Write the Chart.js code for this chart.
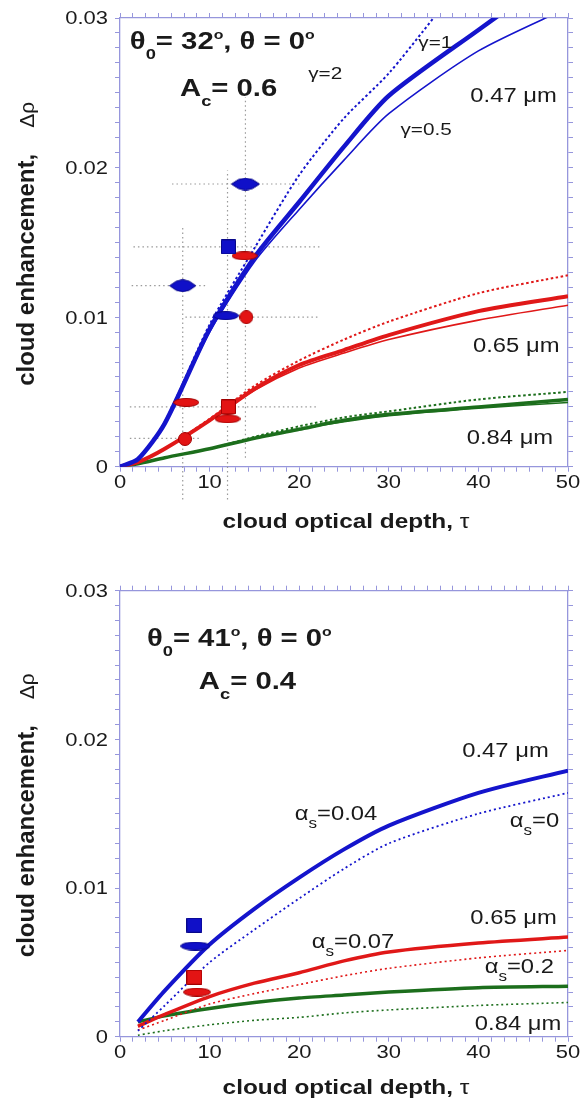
<!DOCTYPE html>
<html>
<head>
<meta charset="utf-8">
<script src="https://cdn.jsdelivr.net/npm/chart.js@4.4.1/dist/chart.umd.min.js"></script>
<style>
html, body { margin: 0; padding: 0; background: #fff; }
#wrap { position: relative; width: 581px; height: 1102px; }
.panel { position: absolute; left: 0; width: 581px; height: 551px; }
</style>
</head>
<body>
<div id="wrap">
  <div class="panel" style="top:0"><canvas id="topChart" width="581" height="551"></canvas></div>
  <div class="panel" style="top:551px"><canvas id="botChart" width="581" height="551"></canvas></div>
</div>
<script>
// ---- axes / ticks ----
const xTickValues = [0, 10, 20, 30, 40, 50];
const xTickLabels = ["0", "10", "20", "30", "40", "50"];
const yTickValues = [0, 0.01, 0.02, 0.03];
const yTickLabels = ["0", "0.01", "0.02", "0.03"];
const xMinorStep = 10 / 7;   // 7 small ticks per decade of tau
const yMinorStep = 0.001;

// ---- top panel: theta0 = 32, Ac = 0.6 ----
const tauTop = [0, 2, 5, 10, 15, 20, 25, 30, 40, 50];
const blueG1 = [0, 0.0005, 0.0029, 0.0092, 0.0140, 0.0177, 0.0214, 0.0248, 0.0292, 0.0335];
const blueG05 = [0, 0.0005, 0.0029, 0.0090, 0.0137, 0.0172, 0.0205, 0.0236, 0.0278, 0.0307];
const blueG2 = [0, 0.0005, 0.0030, 0.0095, 0.0146, 0.0195, 0.0233, 0.0263, 0.0335, 0.0380];
const redG1 = [0, 0.0003, 0.0012, 0.0031, 0.0052, 0.0068, 0.0078, 0.0088, 0.0104, 0.0114];
const redG05 = [0, 0.0003, 0.0012, 0.0031, 0.0051, 0.0066, 0.0076, 0.0085, 0.0098, 0.0108];
const redG2 = [0, 0.0003, 0.0012, 0.0032, 0.0054, 0.0071, 0.0085, 0.0097, 0.0116, 0.0128];
const greenG1 = [0, 0.0002, 0.0006, 0.0012, 0.0019, 0.0025, 0.0031, 0.0035, 0.0040, 0.0045];
const greenG05 = [0, 0.0002, 0.0006, 0.0012, 0.0019, 0.0025, 0.0030, 0.0034, 0.0039, 0.0043];
const greenG2 = [0, 0.0002, 0.0006, 0.0012, 0.0020, 0.0027, 0.0033, 0.0037, 0.0045, 0.0050];

// observations, top panel
const obsBlueLensTau = [14.0], obsBlueLensVal = [0.0189];
const obsBlueSmallLensTau = [7.0], obsBlueSmallLensVal = [0.0121];
const obsBlueSquareTau = [12.1], obsBlueSquareVal = [0.0147];
const obsBlueEllTau = [11.8], obsBlueEllVal = [0.0101];
const obsRedEllTau = [13.9, 7.4, 12.0], obsRedEllVal = [0.0141, 0.0043, 0.0032];
const obsRedCircTau = [14.1, 7.25], obsRedCircVal = [0.0100, 0.00185];
const obsRedSquareTau = [12.1], obsRedSquareVal = [0.0040];
// error bars (dotted grey)
const hBarVal = [0.0189, 0.0147, 0.0121, 0.0100, 0.0040, 0.0019];
const hBarFrom = [5.8, 1.5, 1.3, 7.3, 1.1, 1.1];
const hBarTo = [20.1, 22.3, 9.5, 22.3, 22.1, 8.9];
const vBarTau = [7.0, 12.0, 14.0];
const vBarFrom = [-0.0022, -0.0022, 0.0006];
const vBarTo = [0.0161, 0.0198, 0.0247];

// ---- bottom panel: theta0 = 41, Ac = 0.4 ----
const tauBot = [2, 5, 10, 15, 20, 25, 30, 40, 50];
const blueA004 = [0.0010, 0.0031, 0.0062, 0.0086, 0.0107, 0.0126, 0.0142, 0.0164, 0.0179];
const blueA0 = [0.0004, 0.0021, 0.0050, 0.0072, 0.0093, 0.0113, 0.0130, 0.0150, 0.0164];
const redA007 = [0.0007, 0.0015, 0.0027, 0.0036, 0.0043, 0.0051, 0.0057, 0.0063, 0.0067];
const redA0 = [0.00045, 0.0011, 0.0022, 0.0029, 0.0035, 0.0041, 0.0046, 0.0053, 0.0058];
const greenA02 = [0.0010, 0.0014, 0.0019, 0.0023, 0.0026, 0.0028, 0.0030, 0.0033, 0.0034];
const greenA0 = [0.0001, 0.0004, 0.0008, 0.0011, 0.0013, 0.0016, 0.0018, 0.0021, 0.0023];
const botBlueSquareTau = [8.3], botBlueSquareVal = [0.0075];
const botBlueEllTau = [8.4], botBlueEllVal = [0.0061];
const botRedSquareTau = [8.3], botRedSquareVal = [0.0040];
const botRedEllTau = [8.6], botRedEllVal = [0.0030];

// ---- styles ----
const AXIS = "#9696dc";
const BLUE = "#1414cc";
const RED = "#e01818";
const GREEN = "#1c6e1c";
const GREY = "#9a9a9a";
const FF = "'Liberation Sans', Arial, sans-serif";
const SX = 1.22;   // text in the figure is drawn wide

function makeMarker(shape, w, h, fill, edge) {
    const c = document.createElement("canvas");
    c.width = w; c.height = h;
    const g = c.getContext("2d");
    g.fillStyle = fill; g.strokeStyle = edge; g.lineWidth = 1;
    g.beginPath();
    if (shape === "ellipse") g.ellipse(w / 2, h / 2, w / 2 - 0.5, h / 2 - 0.5, 0, 0, 2 * Math.PI);
    else if (shape === "lens") {
        g.moveTo(0.5, h / 2);
        g.quadraticCurveTo(w / 2, -h / 2 + 1, w - 0.5, h / 2);
        g.quadraticCurveTo(w / 2, 1.5 * h - 1, 0.5, h / 2);
    }
    else if (shape === "circle") g.arc(w / 2, h / 2, w / 2 - 0.5, 0, 2 * Math.PI);
    else g.rect(0.5, 0.5, w - 1, h - 1);
    g.fill(); g.stroke();
    return c;
}

const mk = {
    blueLens: makeMarker("lens", 29, 13, "#1010c8", "#08088a"),
    blueSmallLens: makeMarker("lens", 27, 13, "#1010c8", "#08088a"),
    blueSquare: makeMarker("rect", 15, 15, "#1010c8", "#08088a"),
    blueEll: makeMarker("ellipse", 26, 9, "#1010c8", "#08088a"),
    redEll: makeMarker("ellipse", 26, 9, "#e31414", "#a00000"),
    redCirc: makeMarker("circle", 14, 14, "#e31414", "#a00000"),
    redSquare: makeMarker("rect", 15, 15, "#e31414", "#a00000"),
    botBlueSquare: makeMarker("rect", 16, 15, "#1010c8", "#08088a"),
    botBlueEll: makeMarker("ellipse", 30, 9, "#1010c8", "#08088a"),
    botRedSquare: makeMarker("rect", 16, 15, "#e31414", "#a00000"),
    botRedEll: makeMarker("ellipse", 28, 9, "#e31414", "#a00000")
};

function pts(xs, ys) {
    return xs.map((x, i) => ({ x: x, y: ys[i] }));
}

function curve(xs, ys, color, width, dash) {
    return {
        data: pts(xs, ys), borderColor: color, borderWidth: width, borderDash: dash || [],
        pointRadius: 0, fill: false, tension: 0.25, borderJoinStyle: "round", order: 2
    };
}

function markers(xs, ys, img) {
    return {
        data: pts(xs, ys), showLine: false, pointStyle: img, pointRadius: 8,
        pointHoverRadius: 8, order: 0, clip: false
    };
}

function bar(xs, ys) {
    return {
        data: pts(xs, ys), borderColor: GREY, borderWidth: 1.2, borderDash: [1.5, 3],
        pointRadius: 0, tension: 0, order: 3, clip: false
    };
}

function axisCfg(axis, pos, min, max, step, size) {
    const n = Math.round((max - min) / step);
    return {
        type: "linear", axis: axis, position: pos, min: min, max: max,
        grid: { display: true, drawOnChartArea: false, drawTicks: true, tickLength: 5, tickColor: AXIS, tickWidth: 1 },
        border: { display: true, color: AXIS, width: 1.3 },
        ticks: { display: false },
        afterBuildTicks: s => { s.ticks = Array.from({ length: n + 1 }, (_, i) => ({ value: min + i * step })); },
        afterFit: s => { if (pos === "left" || pos === "right") s.width = size; else s.height = size; }
    };
}

// draw a run of text pieces [text, font, dy], stretched horizontally
function drawRun(ctx, x, y, parts, align) {
    ctx.save();
    ctx.textAlign = "left";
    ctx.textBaseline = "alphabetic";
    let w = 0;
    parts.forEach(p => { ctx.font = p[1]; w += ctx.measureText(p[0]).width; });
    const start = align === "center" ? x - w * SX / 2 : align === "right" ? x - w * SX : x;
    ctx.translate(start, y);
    ctx.scale(SX, 1);
    let cx = 0;
    parts.forEach(p => {
        ctx.font = p[1];
        ctx.fillText(p[0], cx, p[2] || 0);
        cx += ctx.measureText(p[0]).width;
    });
    ctx.restore();
}

const B24 = "bold 24px " + FF, B15 = "bold 15px " + FF, B13 = "bold 13px " + FF;
const R19 = "19.5px " + FF, R17 = "17px " + FF, R14 = "14px " + FF, R18 = "18px " + FF;

function textPlugin(notes, titleOffset) {
    return {
        id: "texts",
        afterDraw(chart) {
            const ctx = chart.ctx, xs = chart.scales.x, ys = chart.scales.y, a = chart.chartArea;
            ctx.save();
            ctx.fillStyle = "#1a1a1a";
            // tick labels
            xTickValues.forEach((v, i) => drawRun(ctx, xs.getPixelForValue(v), a.bottom + 21.5, [[xTickLabels[i], R18]], "center"));
            yTickValues.forEach((v, i) => drawRun(ctx, a.left - 12, ys.getPixelForValue(v) + 6.4, [[yTickLabels[i], R18]], "right"));
            // x title
            drawRun(ctx, (a.left + a.right) / 2 + 2, a.bottom + titleOffset,
                [["cloud optical depth, ", "bold 20px " + FF], ["\u03c4", "20px " + FF]], "center");
            // y title
            ctx.save();
            ctx.translate(34, (a.top + a.bottom) / 2 + 143.5);
            ctx.rotate(-Math.PI / 2);
            ctx.textAlign = "left";
            ctx.font = "bold 24px " + FF;
            ctx.fillText("cloud enhancement,", 0, 0);
            ctx.font = "21px " + FF;
            ctx.fillText("\u0394\u03c1", 258, 0);
            ctx.restore();
            // annotations in data coordinates
            notes.forEach(n => drawRun(ctx, xs.getPixelForValue(n.tau), ys.getPixelForValue(n.val), n.parts, "left"));
            ctx.restore();
        }
    };
}

function makeChart(id, datasets, notes, topSize, bottomSize, titleOffset) {
    return new Chart(document.getElementById(id), {
        type: "line",
        data: { datasets: datasets },
        options: {
            responsive: false, animation: false, events: [],
            layout: { padding: 0 },
            plugins: { legend: { display: false }, tooltip: { enabled: false } },
            scales: {
                x: axisCfg("x", "bottom", 0, 50, xMinorStep, bottomSize),
                x2: axisCfg("x", "top", 0, 50, xMinorStep, topSize),
                y: axisCfg("y", "left", 0, 0.03, yMinorStep, 120),
                y2: axisCfg("y", "right", 0, 0.03, yMinorStep, 13)
            }
        },
        plugins: [textPlugin(notes, titleOffset)]
    });
}

// ---- top chart ----
const topSets = [
    markers(obsBlueLensTau, obsBlueLensVal, mk.blueLens),
    markers(obsBlueSmallLensTau, obsBlueSmallLensVal, mk.blueSmallLens),
    markers(obsBlueSquareTau, obsBlueSquareVal, mk.blueSquare),
    markers(obsBlueEllTau, obsBlueEllVal, mk.blueEll),
    markers(obsRedCircTau, obsRedCircVal, mk.redCirc),
    markers(obsRedEllTau, obsRedEllVal, mk.redEll),
    markers(obsRedSquareTau, obsRedSquareVal, mk.redSquare),
    curve(tauTop, blueG1, BLUE, 4.5),
    curve(tauTop, blueG05, BLUE, 1.6),
    curve(tauTop, blueG2, BLUE, 2, [2.5, 2.5]),
    curve(tauTop, redG1, RED, 4),
    curve(tauTop, redG05, RED, 1.6),
    curve(tauTop, redG2, RED, 2, [2.5, 2.5]),
    curve(tauTop, greenG1, GREEN, 3.5),
    curve(tauTop, greenG05, GREEN, 1.5),
    curve(tauTop, greenG2, GREEN, 2, [2.5, 2.5])
];
hBarVal.forEach((v, i) => topSets.push(bar([hBarFrom[i], hBarTo[i]], [v, v])));
vBarTau.forEach((t, i) => topSets.push(bar([t, t], [vBarFrom[i], vBarTo[i]])));

const topNotes = [
    { tau: 1.1, val: 0.0279, parts: [["\u03b8", B24], ["0", B15, 10], ["= 32", B24], ["o", B13, -10], [", \u03b8 = 0", B24], ["o", B13, -10]] },
    { tau: 6.7, val: 0.0248, parts: [["A", B24], ["c", B15, 10], ["= 0.6", B24]] },
    { tau: 21.0, val: 0.0259, parts: [["\u03b3=2", R17]] },
    { tau: 33.3, val: 0.0280, parts: [["\u03b3=1", R17]] },
    { tau: 31.3, val: 0.0222, parts: [["\u03b3=0.5", R17]] },
    { tau: 39.1, val: 0.0244, parts: [["0.47 \u03bcm", R19]] },
    { tau: 39.4, val: 0.0077, parts: [["0.65 \u03bcm", R19]] },
    { tau: 38.7, val: 0.0015, parts: [["0.84 \u03bcm", R19]] }
];

makeChart("topChart", topSets, topNotes, 18, 551 - 466.7, 61.3);

// ---- bottom chart ----
const botSets = [
    markers(botBlueSquareTau, botBlueSquareVal, mk.botBlueSquare),
    markers(botBlueEllTau, botBlueEllVal, mk.botBlueEll),
    markers(botRedSquareTau, botRedSquareVal, mk.botRedSquare),
    markers(botRedEllTau, botRedEllVal, mk.botRedEll),
    curve(tauBot, blueA004, BLUE, 4),
    curve(tauBot, blueA0, BLUE, 1.8, [2, 3]),
    curve(tauBot, redA007, RED, 3.5),
    curve(tauBot, redA0, RED, 1.6, [2, 3]),
    curve(tauBot, greenA02, GREEN, 3.5),
    curve(tauBot, greenA0, GREEN, 1.6, [2, 3])
];

const botNotes = [
    { tau: 3.0, val: 0.0263, parts: [["\u03b8", B24], ["0", B15, 10], ["= 41", B24], ["o", B13, -10], [", \u03b8 = 0", B24], ["o", B13, -10]] },
    { tau: 8.8, val: 0.0234, parts: [["A", B24], ["c", B15, 10], ["= 0.4", B24]] },
    { tau: 38.2, val: 0.0188, parts: [["0.47 \u03bcm", R19]] },
    { tau: 19.5, val: 0.0146, parts: [["\u03b1", R19], ["s", R14, 8], ["=0.04", R19]] },
    { tau: 43.5, val: 0.0141, parts: [["\u03b1", R19], ["s", R14, 8], ["=0", R19]] },
    { tau: 39.1, val: 0.0076, parts: [["0.65 \u03bcm", R19]] },
    { tau: 21.4, val: 0.0060, parts: [["\u03b1", R19], ["s", R14, 8], ["=0.07", R19]] },
    { tau: 40.7, val: 0.0043, parts: [["\u03b1", R19], ["s", R14, 8], ["=0.2", R19]] },
    { tau: 39.6, val: 0.00045, parts: [["0.84 \u03bcm", R19]] }
];

makeChart("botChart", botSets, botNotes, 590.7 - 551, 551 - 485.7, 57.3);
</script>
</body>
</html>
